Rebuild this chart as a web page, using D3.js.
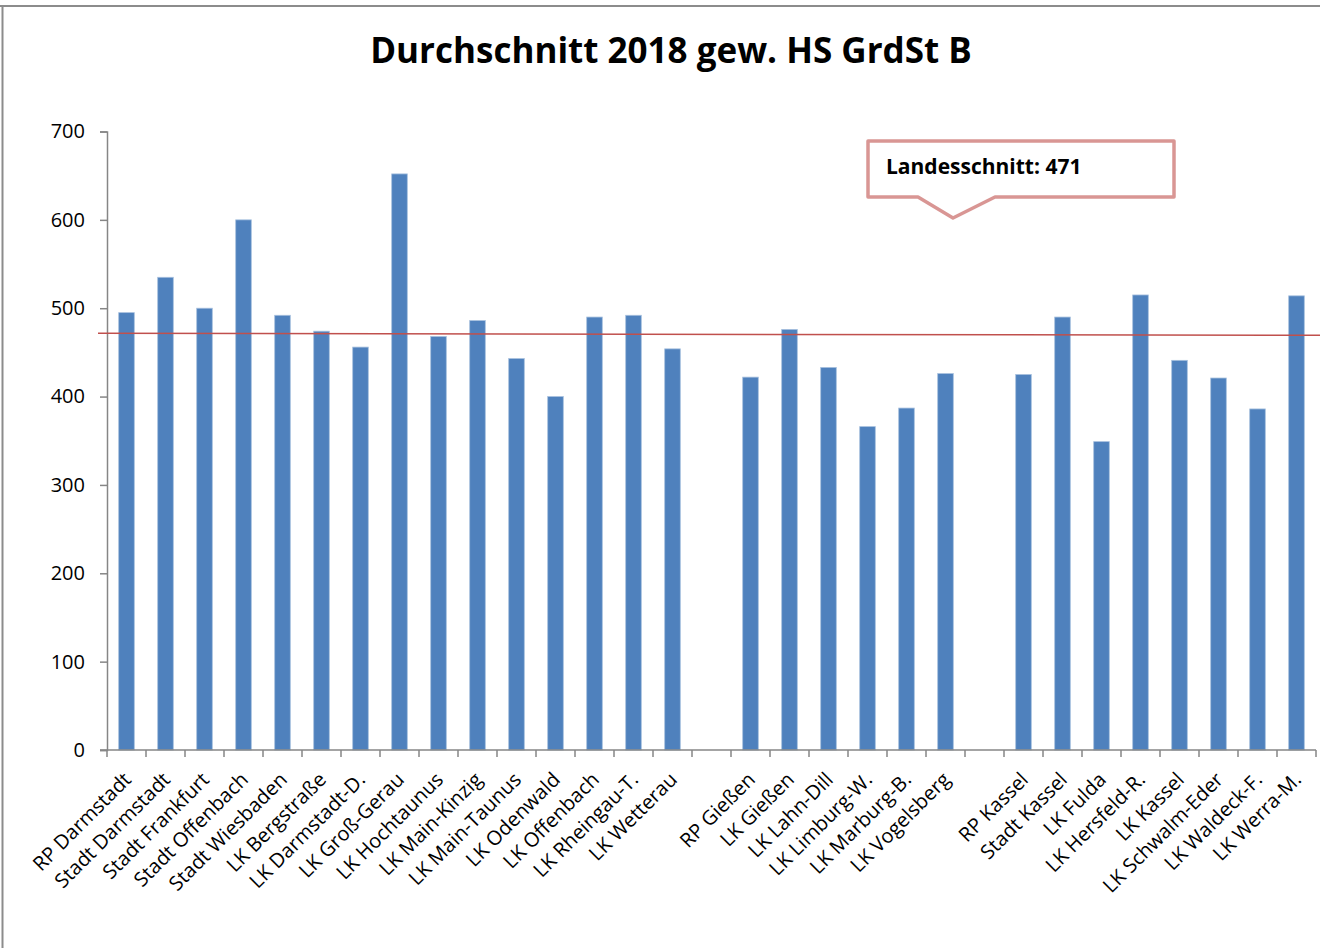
<!DOCTYPE html>
<html>
<head>
<meta charset="utf-8">
<title>Durchschnitt 2018</title>
<script src="https://d3js.org/d3.v7.min.js"></script>
<style>
body { margin:0; background:#fff; }
text { font-family: "Open Sans", Lato, sans-serif; }
</style>
</head>
<body>
<script>
var categories = ["RP Darmstadt", "Stadt Darmstadt", "Stadt Frankfurt", "Stadt Offenbach", "Stadt Wiesbaden",
  "LK Bergstraße", "LK Darmstadt-D.", "LK Groß-Gerau", "LK Hochtaunus", "LK Main-Kinzig", "LK Main-Taunus",
  "LK Odenwald", "LK Offenbach", "LK Rheingau-T.", "LK Wetterau", "",
  "RP Gießen", "LK Gießen", "LK Lahn-Dill", "LK Limburg-W.", "LK Marburg-B.", "LK Vogelsberg", "",
  "RP Kassel", "Stadt Kassel", "LK Fulda", "LK Hersfeld-R.", "LK Kassel", "LK Schwalm-Eder", "LK Waldeck-F.", "LK Werra-M."];
var values = [495, 535, 500, 600, 492, 474, 456, 652, 468, 486, 443, 400, 490, 492, 454, null,
  422, 476, 433, 366, 387, 426, null,
  425, 490, 349, 515, 441, 421, 386, 514];
var yTicks = [0, 100, 200, 300, 400, 500, 600, 700];
var landesschnitt = 471;
var title = "Durchschnitt 2018 gew. HS GrdSt B";

var width = 1320, height = 948;
var plotLeft = 107, plotRight = 1316, plotTop = 131.5, plotBottom = 750;

var svg = d3.select('body').append('svg').attr('width', width).attr('height', height);

// frame
svg.append('line').attr('x1', 0).attr('x2', width).attr('y1', 6).attr('y2', 6)
  .attr('stroke', '#8c8c8c').attr('stroke-width', 2);
svg.append('line').attr('x1', 2.5).attr('x2', 2.5).attr('y1', 6).attr('y2', height)
  .attr('stroke', '#8c8c8c').attr('stroke-width', 2);

svg.append('text').attr('x', 671).attr('y', 63).attr('text-anchor', 'middle')
  .attr('font-size', 35).attr('font-weight', 'bold').text(title);

var x = d3.scaleBand().domain(d3.range(categories.length)).range([plotLeft, plotRight])
  .paddingInner(0.6).paddingOuter(0.3);
var y = d3.scaleLinear().domain([0, 700]).range([plotBottom, plotTop]);

// y axis
var yAxis = svg.append('g').attr('transform', 'translate(' + plotLeft + ',0)')
  .call(d3.axisLeft(y).tickValues(yTicks).tickSize(7).tickPadding(15));
yAxis.selectAll('line, path').attr('stroke', '#868686').attr('stroke-width', 1.5);
yAxis.selectAll('text').attr('font-size', 20).attr('fill', '#000');

// bars
svg.selectAll('rect.bar').data(values.map(function(v, i){ return {v:v, i:i}; }).filter(function(d){ return d.v != null; }))
  .enter().append('rect').attr('class', 'bar')
  .attr('x', function(d){ return x(d.i); })
  .attr('width', x.bandwidth())
  .attr('y', function(d){ return y(d.v); })
  .attr('height', function(d){ return y(0) - y(d.v); })
  .attr('fill', '#4f81bd').attr('stroke', '#a7c0de').attr('stroke-width', 0.8);

// x axis
var step = x.step();
svg.append('line').attr('x1', plotLeft - 7).attr('x2', plotRight).attr('y1', plotBottom).attr('y2', plotBottom)
  .attr('stroke', '#868686').attr('stroke-width', 1.5);
svg.selectAll('line.xtick').data(d3.range(categories.length + 1)).enter().append('line')
  .attr('class', 'xtick')
  .attr('x1', function(i){ return plotLeft + i * step; })
  .attr('x2', function(i){ return plotLeft + i * step; })
  .attr('y1', plotBottom).attr('y2', plotBottom + 7)
  .attr('stroke', '#868686').attr('stroke-width', 1.5);

svg.selectAll('text.xlab').data(categories).enter().append('text').attr('class', 'xlab')
  .attr('transform', function(d, i){
    var cx = x(i) + x.bandwidth() / 2 - 4;
    return 'translate(' + cx + ',' + (plotBottom + 21) + ') rotate(-45)';
  })
  .attr('text-anchor', 'end').attr('dy', '0.7em')
  .attr('font-size', 20).attr('fill', '#000')
  .text(function(d){ return d; });

// average line
svg.append('line').attr('x1', 98).attr('x2', width)
  .attr('y1', y(landesschnitt) - 0.5).attr('y2', y(landesschnitt) + 1.5)
  .attr('stroke', '#c0504d').attr('stroke-width', 1.5);

// callout
var cb = {x0: 868, x1: 1174, y0: 141, y1: 197};
var pts = [[cb.x0, cb.y0], [cb.x1, cb.y0], [cb.x1, cb.y1], [995, cb.y1], [953, 218], [918, cb.y1], [cb.x0, cb.y1]];
svg.append('path').attr('d', d3.line()(pts) + 'Z')
  .attr('fill', '#fff').attr('stroke', '#d99694').attr('stroke-width', 3.5).attr('stroke-linejoin', 'round');
svg.append('text').attr('x', 886).attr('y', 174).attr('font-size', 21).attr('font-weight', 'bold')
  .text('Landesschnitt: ' + landesschnitt);
</script>
</body>
</html>
